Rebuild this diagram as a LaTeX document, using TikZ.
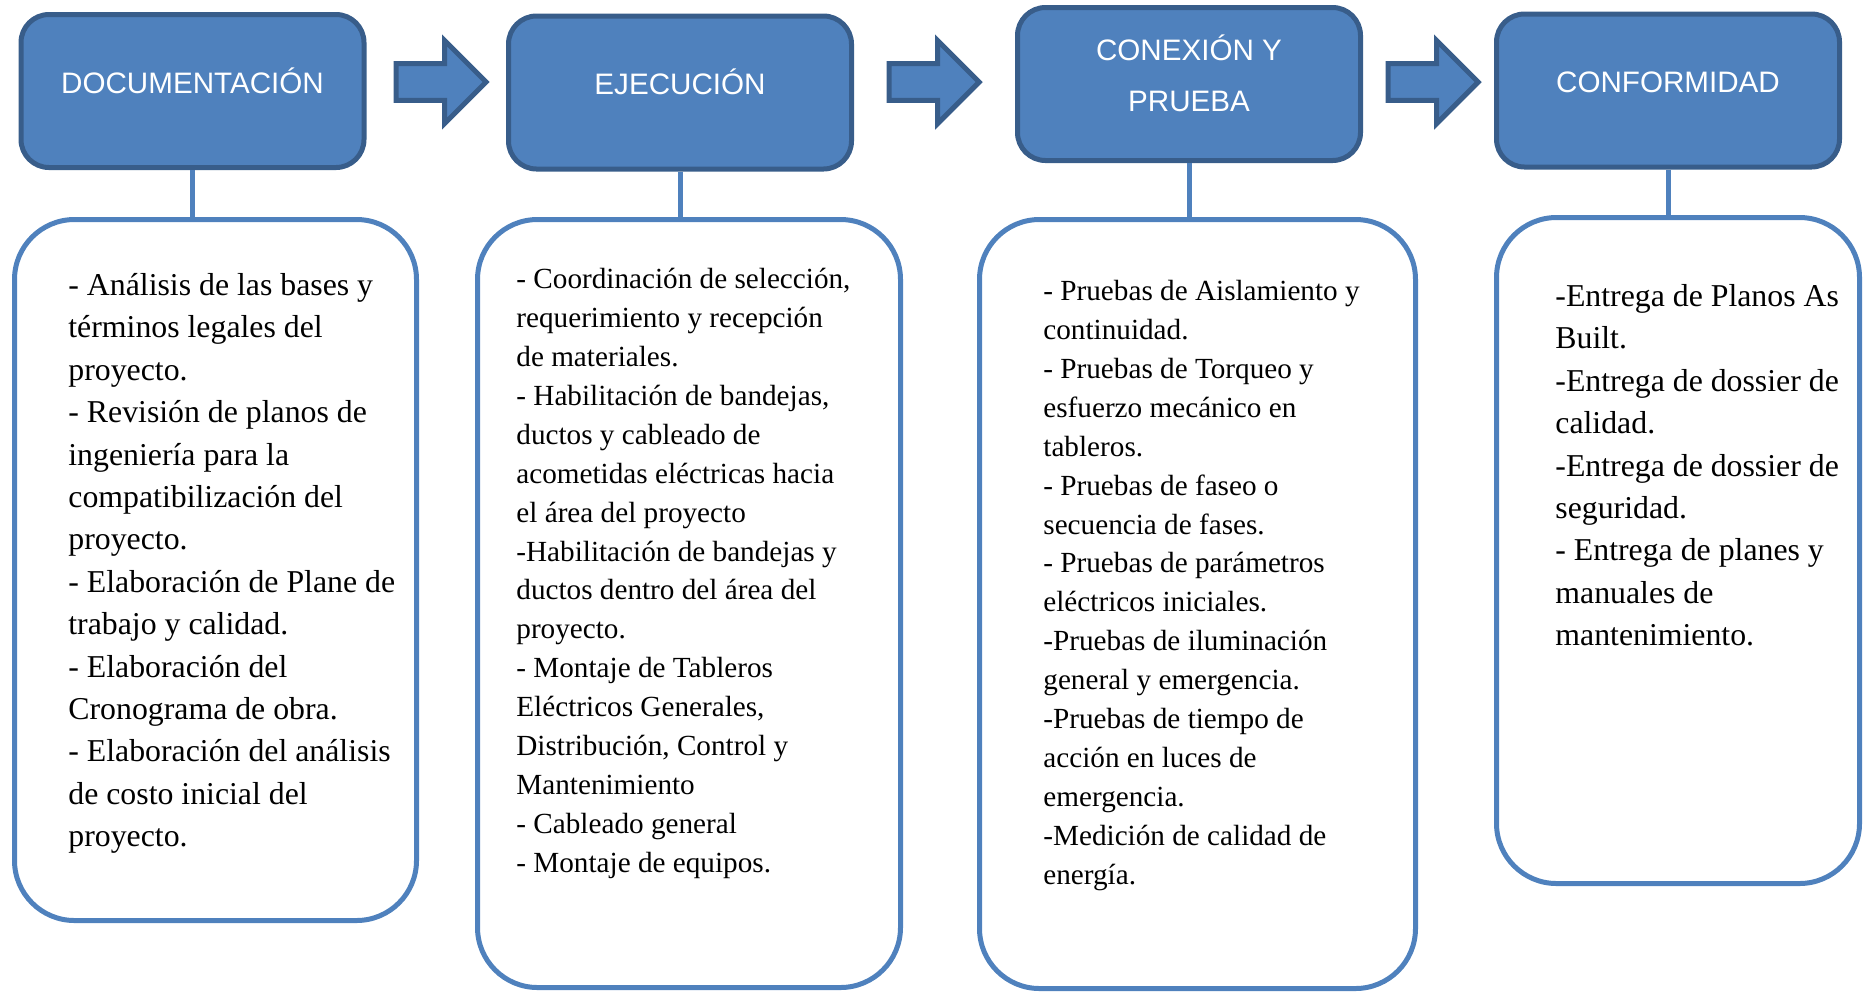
\documentclass[tikz,border=0pt]{standalone}
\usepackage{fontspec}
\setmainfont{Liberation Serif}
\newfontfamily\headfont{Liberation Sans}
\usetikzlibrary{positioning}
\usetikzlibrary{calc}
\usetikzlibrary{shapes.arrows}

\definecolor{azul}{HTML}{4F81BD}
\definecolor{azuloscuro}{HTML}{385D8A}

\begin{document}
\begin{tikzpicture}[x=0.5pt, y=-0.5pt,
    fase/.style={draw=azuloscuro, fill=azul, line width=2.5pt, rounded corners=14pt,
    minimum width=171.5pt, minimum height=76.5pt, inner sep=0pt,
    text=white, font=\headfont\fontsize{14.8pt}{25.5pt}\selectfont,
    align=center, text height=10pt, text depth=7.7pt},
    tarea/.style={draw=azul, line width=2.5pt, rounded corners=30pt, inner sep=0pt},
    lista/.style={anchor=north west, inner sep=0pt, align=left},
    grande/.style={font=\fontsize{15.9pt}{21.2pt}\selectfont},
    chica/.style={font=\fontsize{14.6pt}{19.45pt}\selectfont},
    flecha/.style={single arrow, draw=azuloscuro, fill=azul, line width=2.5pt,
    minimum height=45pt, minimum width=41.5pt, single arrow head extend=11.5pt,
    inner xsep=0pt, inner ysep=7.9pt},
    enlace/.style={draw=azul, line width=2.5pt}
    ]

    \useasboundingbox (0,0) rectangle (1863,993);

    % fases
    \node[fase] (doc) at (192.5,91) {DOCUMENTACIÓN};
    \node[fase] (ejec) at (680,92.5) {EJECUCIÓN};
    \node[fase, text height=29.7pt, text depth=2pt] (conex) at (1189,84) {CONEXIÓN Y\\PRUEBA};
    \node[fase] (conf) at (1668,90.5) {CONFORMIDAD};

    \node[flecha] (f1) at (432,82) {};
    \node[flecha] (f2) at (925,82) {};
    \node[flecha] (f3) at (1424,82) {};

    % cajas de tareas
    \node[tarea, minimum width=201pt, minimum height=350.5pt] (b1) at (215.5,570) {};
    \node[tarea, minimum width=211.5pt, minimum height=384pt] (b2) at (689,603.5) {};
    \node[tarea, minimum width=218pt, minimum height=384.5pt] (b3) at (1197.5,604) {};
    \node[tarea, minimum width=181.5pt, minimum height=333pt] (b4) at (1678,550.5) {};

    \draw[enlace] (doc.south) -- (doc.south |- b1.north);
    \draw[enlace] (ejec.south) -- (ejec.south |- b2.north);
    \draw[enlace] (conex.south) -- (conex.south |- b3.north);
    \draw[enlace] (conf.south) -- (conf.south |- b4.north);

    \node[lista, grande] (t1) at (68,273) {- Análisis de las bases y\\términos legales del\\proyecto.\\- Revisión de planos de\\ingeniería para la\\compatibilización del\\proyecto.\\- Elaboración de Plane de\\trabajo y calidad.\\- Elaboración del\\Cronograma de obra.\\- Elaboración del análisis\\de costo inicial del\\proyecto.};
    \node[lista, chica] (t2) at (516,268) {- Coordinación de selección,\\requerimiento y recepción\\de materiales.\\- Habilitación de bandejas,\\ductos y cableado de\\acometidas eléctricas hacia\\el área del proyecto\\-Habilitación de bandejas y\\ductos dentro del área del\\proyecto.\\- Montaje de Tableros\\Eléctricos Generales,\\Distribución, Control y\\Mantenimiento\\- Cableado general\\- Montaje de equipos.};
    \node[lista, chica] (t3) at (1043,280) {- Pruebas de Aislamiento y\\continuidad.\\- Pruebas de Torqueo y\\esfuerzo mecánico en\\tableros.\\- Pruebas de faseo o\\secuencia de fases.\\- Pruebas de parámetros\\eléctricos iniciales.\\-Pruebas de iluminación\\general y emergencia.\\-Pruebas de tiempo de\\acción en luces de\\emergencia.\\-Medición de calidad de\\energía.};
    \node[lista, grande] (t4) at (1555,284) {-Entrega de Planos As\\Built.\\-Entrega de dossier de\\calidad.\\-Entrega de dossier de\\seguridad.\\- Entrega de planes y\\manuales de\\mantenimiento.};
\end{tikzpicture}
\end{document}
